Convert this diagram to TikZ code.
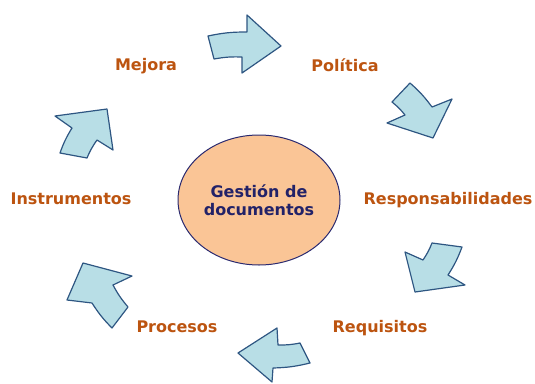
\documentclass[tikz,border=0pt]{standalone}
\usepackage{fontspec}
\setmainfont{DejaVu Sans}
\usetikzlibrary{shapes.geometric, positioning}
\definecolor{stagebrown}{RGB}{188,84,16}
\definecolor{hubfill}{RGB}{250,197,150}
\definecolor{hubline}{RGB}{42,42,112}
\definecolor{hubtext}{RGB}{34,34,104}
\definecolor{arrowfill}{RGB}{184,222,230}
\definecolor{arrowline}{RGB}{46,86,130}
\tikzstyle{stage} = [text=stagebrown, font=\fontsize{16}{19}\selectfont\bfseries, anchor=base, inner sep=0pt]
\tikzstyle{hub} = [ellipse, draw=hubline, fill=hubfill, line width=1pt, minimum width=162pt, minimum height=130pt, inner sep=0pt, text=hubtext, align=center, font=\fontsize{16}{18}\selectfont\bfseries]
\tikzstyle{cyclearrow} = [draw=arrowline, fill=arrowfill, line width=1.2pt, line join=round]

\begin{document}
\begin{tikzpicture}[x=1pt, y=-1pt]
\useasboundingbox (0,0) rectangle (535,383);
\node (gestion) [hub] at (259,200) {Gestión de\\documentos};
% stages
\node (mejora) [stage] at (146,70) {Mejora};
\node (politica) [stage] at (345,71) {Política};
\node (respons) [stage] at (448,204) {Responsabilidades};
\node (requisitos) [stage] at (380,332) {Requisitos};
\node (procesos) [stage] at (177,332) {Procesos};
\node (instrum) [stage] at (71,204) {Instrumentos};
% arrows
\draw [cyclearrow] (208,36) to[bend left=6] (247,32) -- (247,15) -- (281,46) -- (242,73) -- (242,57) to[bend right=6] (214,59) -- cycle;
\draw [cyclearrow] (410,83) to[bend left=6] (432,107) -- (452,99) -- (433,138) -- (387,123) -- (405,115) to[bend right=6] (392,102) -- cycle;
\draw [cyclearrow] (462,247) to[bend left=6] (448,275) -- (465,285) -- (415,292) -- (405,252) -- (423,260) to[bend right=6] (432,243) -- cycle;
\draw [cyclearrow] (310,363) to[bend left=6] (273,368) -- (272,382) -- (238,353) -- (277,328) -- (278,345) to[bend right=6] (300,343) -- cycle;
\draw [cyclearrow] (112,328) to[bend left=6] (92,303) -- (67,300) -- (83,263) -- (132,276) -- (113,285) to[bend right=6] (128,307) -- cycle;
\draw [cyclearrow] (60,153) to[bend left=6] (72,128) -- (55,116) -- (107,109) -- (113,150) -- (97,140) to[bend right=6] (87,158) -- cycle;
\end{tikzpicture}
\end{document}
